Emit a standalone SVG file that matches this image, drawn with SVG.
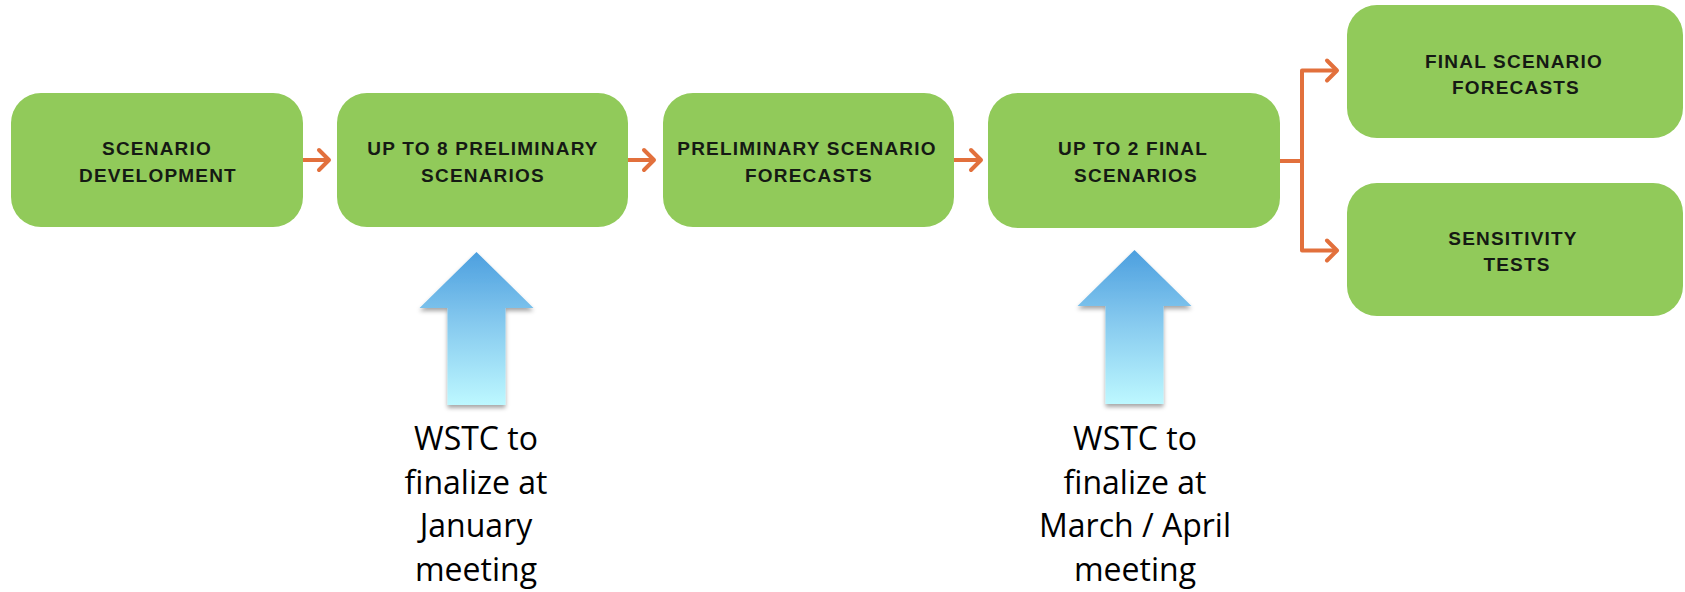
<svg xmlns="http://www.w3.org/2000/svg" width="1685" height="592" viewBox="0 0 1685 592">
<style>
.box{fill:#91CA5A;}
.bt{font-family:"Liberation Sans",Arial,sans-serif;font-weight:700;font-size:19px;letter-spacing:1.2px;fill:#151a14;text-anchor:middle;}
.conn{fill:none;stroke:#E2703C;stroke-width:4;stroke-linejoin:round;}
.lbl{font-family:"Open Sans",sans-serif;font-size:32px;fill:#000;text-anchor:middle;}
.up{fill:url(#blueGrad);filter:url(#shadow);}
</style>
<defs>
<linearGradient id="blueGrad" x1="0" y1="0" x2="0" y2="1">
<stop offset="0" stop-color="#4C9FDF"/>
<stop offset="0.45" stop-color="#84C8EE"/>
<stop offset="1" stop-color="#BDF8FF"/>
</linearGradient>
<filter id="shadow" x="-20%" y="-20%" width="140%" height="140%">
<feDropShadow dx="0" dy="3" stdDeviation="2" flood-color="#000" flood-opacity="0.35"/>
</filter>
<marker id="chev" viewBox="-14 -14 28 28" refX="0" refY="0" markerWidth="28" markerHeight="28" markerUnits="userSpaceOnUse" orient="auto">
<path d="M-10,-10 L0,0 L-10,10" fill="none" stroke="#E2703C" stroke-width="4" stroke-linecap="round" stroke-linejoin="round"/>
</marker>
</defs>
<rect width="1685" height="592" fill="#fff"/>

<g id="connectors">
<path class="conn" d="M303,160 H329" marker-end="url(#chev)"/>
<path class="conn" d="M628,160 H654" marker-end="url(#chev)"/>
<path class="conn" d="M954,160 H981" marker-end="url(#chev)"/>
<path class="conn" d="M1280,161 H1302 V70.5 H1337" marker-end="url(#chev)"/>
<path class="conn" d="M1302,161 V250.5 H1337" marker-end="url(#chev)"/>
</g>

<g id="n1">
<rect class="box" x="11" y="93" width="292" height="134" rx="30"/>
<text class="bt" x="157" y="155">SCENARIO</text>
<text class="bt" x="158" y="181.5">DEVELOPMENT</text>
</g>
<g id="n2">
<rect class="box" x="337" y="93" width="291" height="134" rx="30"/>
<text class="bt" x="483" y="155">UP TO 8 PRELIMINARY</text>
<text class="bt" x="483" y="181.5">SCENARIOS</text>
</g>
<g id="n3">
<rect class="box" x="663" y="93" width="291" height="134" rx="30"/>
<text class="bt" x="807" y="155">PRELIMINARY SCENARIO</text>
<text class="bt" x="809" y="181.5">FORECASTS</text>
</g>
<g id="n4">
<rect class="box" x="988" y="93" width="292" height="135" rx="30"/>
<text class="bt" x="1133" y="155">UP TO 2 FINAL</text>
<text class="bt" x="1136" y="181.5">SCENARIOS</text>
</g>
<g id="n5">
<rect class="box" x="1347" y="5" width="336" height="133" rx="30"/>
<text class="bt" x="1514" y="68">FINAL SCENARIO</text>
<text class="bt" x="1516" y="94">FORECASTS</text>
</g>
<g id="n6">
<rect class="box" x="1347" y="183" width="336" height="133" rx="30"/>
<text class="bt" x="1513" y="244.5">SENSITIVITY</text>
<text class="bt" x="1517" y="270.5">TESTS</text>
</g>

<g id="up1">
<polygon class="up" points="476.5,252 533.5,308 505.5,308 505.5,405 447.5,405 447.5,308 419.5,308"/>
</g>
<g id="up2">
<polygon class="up" points="1134.5,250 1191.5,306 1163.5,306 1163.5,404 1105.5,404 1105.5,306 1077.5,306"/>
</g>

<g id="label1">
<text class="lbl" x="476" y="449.5">WSTC to</text>
<text class="lbl" x="476" y="493.5">finalize at</text>
<text class="lbl" x="476" y="537">January</text>
<text class="lbl" x="476" y="580.5">meeting</text>
</g>
<g id="label2">
<text class="lbl" x="1135" y="449.5">WSTC to</text>
<text class="lbl" x="1135" y="493.5">finalize at</text>
<text class="lbl" x="1135" y="537">March / April</text>
<text class="lbl" x="1135" y="580.5">meeting</text>
</g>
</svg>
